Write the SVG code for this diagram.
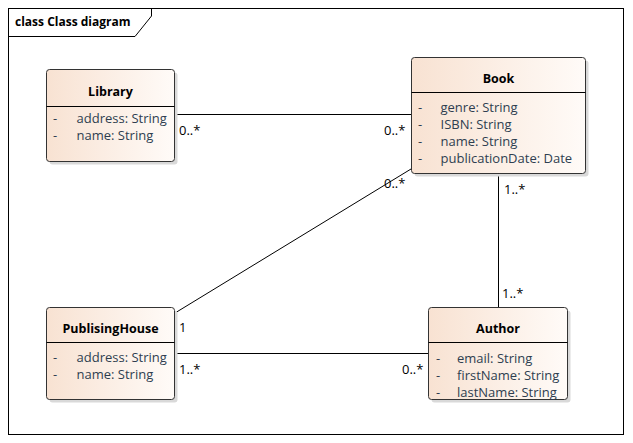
<svg xmlns="http://www.w3.org/2000/svg" width="633" height="443" viewBox="0 0 633 443">
<defs>
<linearGradient id="g" x1="0" y1="0" x2="1" y2="0">
<stop offset="0" stop-color="#F8E2D2"/>
<stop offset="1" stop-color="#FFFBF8"/>
</linearGradient>
<style>
.box{fill:url(#g);stroke:#333;stroke-width:1}
.sh{fill:#d9d9d9}
.div{stroke:#000;stroke-width:1}
.title{font-family:"Open Sans","Noto Sans",sans-serif;font-weight:bold;font-size:12.5px;fill:#000;text-anchor:middle}
.attr{font-family:"Open Sans","Noto Sans",sans-serif;font-size:13px;fill:#2E3E50}
.lbl{font-family:"Open Sans","Noto Sans",sans-serif;font-size:13px;fill:#000}
.conn{stroke:#000;stroke-width:1;fill:none}
</style>
</defs>
<rect width="633" height="443" fill="#fff"/>
<g id="frame">
<rect x="8.5" y="8.5" width="615" height="426" fill="none" stroke="#000"/>
<path d="M8.5 36.5 H135 L151.5 16 V8.5" fill="none" stroke="#000"/>
<text x="15" y="26" class="lbl" style="font-weight:bold;font-size:12px">class Class diagram</text>
</g>
<g id="connectors">
<line class="conn" x1="174.5" y1="114.5" x2="411.5" y2="114.5"/>
<line class="conn" x1="498.5" y1="173.5" x2="498.5" y2="307.5"/>
<line class="conn" x1="175" y1="313" x2="411" y2="169"/>
<line class="conn" x1="174.5" y1="353.5" x2="428.5" y2="353.5"/>
<text class="lbl" x="179" y="135">0..*</text>
<text class="lbl" x="384" y="135">0..*</text>
<text class="lbl" x="384" y="188">0..*</text>
<text class="lbl" x="504" y="194">1..*</text>
<text class="lbl" x="502" y="298">1..*</text>
<text class="lbl" x="179" y="332">1</text>
<text class="lbl" x="179" y="374">1..*</text>
<text class="lbl" x="402" y="374">0..*</text>
</g>
<g id="Library">
<rect class="sh" x="49.5" y="72.5" width="128" height="92" rx="3"/>
<rect class="box" x="46.5" y="69.5" width="128" height="92" rx="3"/>
<line class="div" x1="46.5" y1="106.5" x2="174.5" y2="106.5"/>
<text class="title" x="110.5" y="96">Library</text>
<text class="attr" x="53" y="123">-</text><text class="attr" x="76.5" y="123">address: String</text>
<text class="attr" x="53" y="140">-</text><text class="attr" x="76.5" y="140">name: String</text>
</g>
<g id="Book">
<rect class="sh" x="414.5" y="60.5" width="174" height="116" rx="3"/>
<rect class="box" x="411.5" y="57.5" width="174" height="116" rx="3"/>
<line class="div" x1="411.5" y1="92.5" x2="585.5" y2="92.5"/>
<text class="title" x="498.5" y="83">Book</text>
<text class="attr" x="418" y="112">-</text><text class="attr" x="440.5" y="112">genre: String</text>
<text class="attr" x="418" y="129">-</text><text class="attr" x="440.5" y="129">ISBN: String</text>
<text class="attr" x="418" y="146">-</text><text class="attr" x="440.5" y="146">name: String</text>
<text class="attr" x="418" y="163">-</text><text class="attr" x="440.5" y="163">publicationDate: Date</text>
</g>
<g id="PublisingHouse">
<rect class="sh" x="49.5" y="310.5" width="128" height="92" rx="3"/>
<rect class="box" x="46.5" y="307.5" width="128" height="92" rx="3"/>
<line class="div" x1="46.5" y1="342.5" x2="174.5" y2="342.5"/>
<text class="title" x="110.5" y="333">PublisingHouse</text>
<text class="attr" x="53" y="361.5">-</text><text class="attr" x="76.5" y="361.5">address: String</text>
<text class="attr" x="53" y="378.5">-</text><text class="attr" x="76.5" y="378.5">name: String</text>
</g>
<g id="Author">
<rect class="sh" x="431.5" y="310.5" width="139" height="92" rx="3"/>
<rect class="box" x="428.5" y="307.5" width="139" height="92" rx="3"/>
<line class="div" x1="428.5" y1="342.5" x2="567.5" y2="342.5"/>
<text class="title" x="498" y="333">Author</text>
<text class="attr" x="436" y="362.5">-</text><text class="attr" x="457" y="362.5">email: String</text>
<text class="attr" x="436" y="379.5">-</text><text class="attr" x="457" y="379.5">firstName: String</text>
<text class="attr" x="436" y="396.5">-</text><text class="attr" x="457" y="396.5">lastName: String</text>
</g>
</svg>
